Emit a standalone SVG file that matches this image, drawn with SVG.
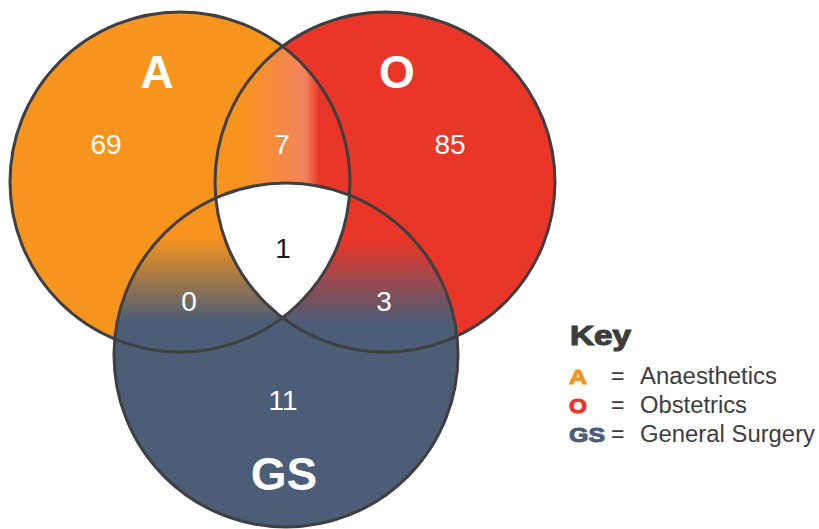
<svg xmlns="http://www.w3.org/2000/svg" width="819" height="529" viewBox="0 0 819 529">
<style>
.ol{fill:none;stroke:#3f3f3f;stroke-width:3}
.num{font-family:"Liberation Sans",Arial,sans-serif;font-size:28px;fill:#ffffff;text-anchor:middle}
.big{font-family:"Liberation Sans",Arial,sans-serif;font-size:46px;font-weight:bold;fill:#ffffff;text-anchor:middle}
.kl{font-family:"Liberation Sans",Arial,sans-serif;font-size:21px;font-weight:bold;stroke-width:1}
.kt{font-family:"Liberation Sans",Arial,sans-serif;font-size:23px;fill:#3d3d3d}
</style>
<defs>
<clipPath id="clipA"><circle cx="180" cy="182" r="170"/></clipPath>
<clipPath id="clipO"><circle cx="385" cy="182" r="170"/></clipPath>
<clipPath id="clipGS"><circle cx="286" cy="355" r="172"/></clipPath>
<linearGradient id="gAO" gradientUnits="userSpaceOnUse" x1="213" y1="0" x2="353" y2="0">
<stop offset="0" stop-color="#F7941D"/>
<stop offset="0.2" stop-color="#F7941D"/>
<stop offset="0.66" stop-color="#F2845E"/>
<stop offset="0.76" stop-color="#EA3529"/>
<stop offset="1" stop-color="#EA3529"/>
</linearGradient>
<linearGradient id="gAG" gradientUnits="userSpaceOnUse" x1="0" y1="237" x2="0" y2="322">
<stop offset="0" stop-color="#F7941D"/>
<stop offset="1" stop-color="#4B5D77"/>
</linearGradient>
<linearGradient id="gOG" gradientUnits="userSpaceOnUse" x1="0" y1="240" x2="0" y2="323">
<stop offset="0" stop-color="#EA3529"/>
<stop offset="1" stop-color="#4B5D77"/>
</linearGradient>
</defs>
<rect width="819" height="529" fill="#ffffff"/>
<g id="node-A"><circle cx="180" cy="182" r="170" fill="#F7941D"/></g>
<g id="node-O"><circle cx="385" cy="182" r="170" fill="#EA3529"/></g>
<g id="node-GS"><circle cx="286" cy="355" r="172" fill="#4B5D77"/></g>
<g id="overlap-AO" clip-path="url(#clipA)"><circle cx="385" cy="182" r="170" fill="url(#gAO)"/></g>
<g id="overlap-AGS" clip-path="url(#clipA)"><circle cx="286" cy="355" r="172" fill="url(#gAG)"/></g>
<g id="overlap-OGS" clip-path="url(#clipO)"><circle cx="286" cy="355" r="172" fill="url(#gOG)"/></g>
<g id="overlap-all" clip-path="url(#clipA)"><g clip-path="url(#clipO)"><circle cx="286" cy="355" r="172" fill="#ffffff"/></g></g>
<g id="outlines">
<circle class="ol" cx="180" cy="182" r="170"/>
<circle class="ol" cx="385" cy="182" r="170"/>
<circle class="ol" cx="286" cy="355" r="172"/>
</g>
<g id="labels">
<text class="big" x="157" y="88">A</text>
<text class="big" x="397" y="88">O</text>
<text class="big" x="284" y="490">GS</text>
<text class="num" x="106" y="154">69</text>
<text class="num" x="282" y="154">7</text>
<text class="num" x="450" y="154">85</text>
<text class="num" x="283" y="258" style="fill:#1a1a1a">1</text>
<text class="num" x="189" y="311">0</text>
<text class="num" x="384" y="311">3</text>
<text class="num" x="283" y="410">11</text>
</g>
<g id="key">
<text x="570" y="345" style="font-family:'Liberation Sans',Arial,sans-serif;font-size:28px;font-weight:bold;fill:#3d3d3d;stroke:#3d3d3d;stroke-width:1.2" textLength="61" lengthAdjust="spacingAndGlyphs">Key</text>
<text class="kl" x="569" y="384" style="fill:#F7941D;stroke:#F7941D" textLength="18" lengthAdjust="spacingAndGlyphs">A</text>
<text class="kl" x="569" y="413" style="fill:#EA3529;stroke:#EA3529" textLength="18" lengthAdjust="spacingAndGlyphs">O</text>
<text class="kl" x="569" y="442" style="fill:#4B5D77;stroke:#4B5D77" textLength="36" lengthAdjust="spacingAndGlyphs">GS</text>
<text class="kt" x="611" y="384">=</text>
<text class="kt" x="611" y="413">=</text>
<text class="kt" x="611" y="442">=</text>
<text class="kt" x="640" y="384" textLength="137" lengthAdjust="spacingAndGlyphs">Anaesthetics</text>
<text class="kt" x="640" y="413" textLength="107" lengthAdjust="spacingAndGlyphs">Obstetrics</text>
<text class="kt" x="640" y="442" textLength="175" lengthAdjust="spacingAndGlyphs">General Surgery</text>
</g>
</svg>
